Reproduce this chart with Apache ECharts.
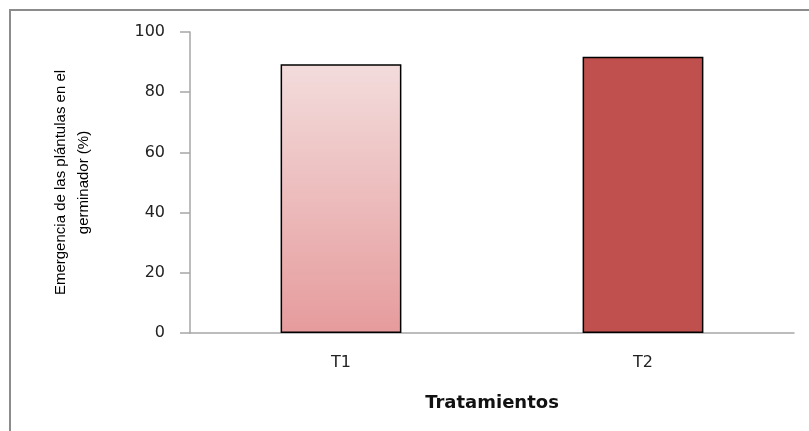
<!DOCTYPE html>
<html>
<head>
<meta charset="utf-8">
<script src="https://cdn.jsdelivr.net/npm/echarts@6/dist/echarts.min.js"></script>
<style>
  html, body { margin: 0; padding: 0; background: #fff; }
  #chart { width: 809px; height: 431px; }
</style>
</head>
<body>
<div id="chart"></div>
<script>
// Treatments and emergence percentages
const categories = ['T1', 'T2'];
const emergence = [89.3, 91.8];
const yTicks = { min: 0, max: 100, interval: 20 };

const barStyles = [
  {
    color: new echarts.graphic.LinearGradient(0, 0, 0, 1, [
      { offset: 0, color: '#F3DCDC' },
      { offset: 1, color: '#E69B9C' }
    ]),
    borderColor: '#000', borderWidth: 1.5
  },
  { color: '#C0504D', borderColor: '#000', borderWidth: 1.5 }
];

const chart = echarts.init(document.getElementById('chart'), null, { renderer: 'canvas' });

chart.setOption({
  animation: false,
  backgroundColor: '#fff',
  graphic: [{
    type: 'rect',
    shape: { x: 10, y: 10, width: 820, height: 440 },
    style: { fill: 'none', stroke: '#8c8c8c', lineWidth: 2 },
    silent: true
  }],
  grid: { left: 190, right: 15, top: 32, bottom: 98 },
  xAxis: {
    type: 'category',
    data: categories,
    axisLine: { lineStyle: { color: '#a6a6a6', width: 1.5 } },
    axisTick: { show: false },
    axisLabel: {
      margin: 22, fontSize: 16, color: '#222',
      fontFamily: 'DejaVu Sans'
    },
    name: 'Tratamientos',
    nameLocation: 'middle',
    nameGap: 61,
    nameTextStyle: {
      fontSize: 18, fontWeight: 'bold', color: '#111',
      fontFamily: 'DejaVu Sans'
    }
  },
  yAxis: {
    type: 'value',
    min: yTicks.min, max: yTicks.max, interval: yTicks.interval,
    axisLine: { show: true, lineStyle: { color: '#a6a6a6', width: 1.5 } },
    axisTick: { show: true, inside: false, length: 10, lineStyle: { color: '#a6a6a6', width: 1.5 } },
    splitLine: { show: false },
    axisLabel: {
      margin: 25, fontSize: 16, color: '#222',
      fontFamily: 'DejaVu Sans'
    },
    name: 'Emergencia de las plántulas en el\ngerminador (%)',
    nameLocation: 'middle',
    nameRotate: 90,
    nameGap: 95,
    nameTextStyle: {
      fontSize: 15, lineHeight: 23, color: '#000', align: 'center',
      fontFamily: '"Liberation Sans Narrow", "Liberation Sans", sans-serif'
    }
  },
  series: [{
    type: 'bar',
    barWidth: '40%',
    data: emergence.map((v, i) => ({ value: v, itemStyle: barStyles[i] }))
  }]
});
</script>
</body>
</html>
